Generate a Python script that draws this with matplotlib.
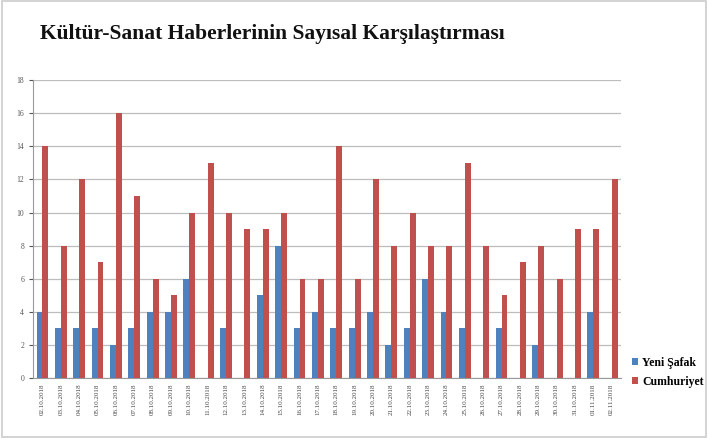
import numpy as np
import matplotlib.pyplot as plt
from matplotlib.patches import Rectangle

# Dates (categories)
dates = ['02.10.2018', '03.10.2018', '04.10.2018', '05.10.2018', '06.10.2018',
         '07.10.2018', '08.10.2018', '09.10.2018', '10.10.2018', '11.10.2018',
         '12.10.2018', '13.10.2018', '14.10.2018', '15.10.2018', '16.10.2018',
         '17.10.2018', '18.10.2018', '19.10.2018', '20.10.2018', '21.10.2018',
         '22.10.2018', '23.10.2018', '24.10.2018', '25.10.2018', '26.10.2018',
         '27.10.2018', '28.10.2018', '29.10.2018', '30.10.2018', '31.10.2018',
         '01.11.2018', '02.11.2018']

# Number of news per newspaper
yeni_safak = [4, 3, 3, 3, 2, 3, 4, 4, 6, 0, 3, 0, 5, 8, 3, 4,
              3, 3, 4, 2, 3, 6, 4, 3, 0, 3, 0, 2, 0, 0, 4, 0]
cumhuriyet = [14, 8, 12, 7, 16, 11, 6, 5, 10, 13, 10, 9, 9, 10, 6, 6,
              14, 6, 12, 8, 10, 8, 8, 13, 8, 5, 7, 8, 6, 9, 9, 12]

serif = ['Liberation Serif', 'DejaVu Serif']

fig = plt.figure(figsize=(7.08, 4.38), dpi=100)
ax = fig.add_axes([0.047, 0.137, 0.83, 0.68])

x = np.arange(len(dates))
w = 0.32
ax.bar(x - w / 2, yeni_safak, w, color='#4F81BD', label='Yeni Şafak', zorder=3)
ax.bar(x + w / 2, cumhuriyet, w, color='#C0504D', label='Cumhuriyet', zorder=3)

ax.set_xlim(-0.5, len(dates) - 0.5)
ax.set_ylim(0, 18)
ax.set_yticks(range(0, 19, 2))
ax.yaxis.grid(True, color='#bdbdbd', linewidth=0.9, zorder=0)
ax.set_xticks(x)
ax.set_xticklabels(dates, rotation=90, fontsize=5, family=serif, color='#444444')
ax.tick_params(axis='x', length=0, pad=4)
ax.tick_params(axis='y', labelsize=5.5, colors='#555555', length=3)
for lbl in ax.get_yticklabels():
    lbl.set_family(serif)

for s in ['top', 'right']:
    ax.spines[s].set_visible(False)
ax.spines['left'].set_color('#999999')
ax.spines['bottom'].set_color('#999999')

fig.text(0.057, 0.912, 'Kültür-Sanat Haberlerinin Sayısal Karşılaştırması',
         fontsize=15.5, fontweight='bold', family=serif, color='#111111')

leg = fig.legend(loc='upper left', bbox_to_anchor=(0.877, 0.21), frameon=False,
                 prop={'family': serif, 'weight': 'bold', 'size': 8.5},
                 handlelength=0.55, handleheight=0.55, handletextpad=0.35,
                 labelspacing=0.6)

# light frame around the chart
fig.patches.append(Rectangle((0.003, 0.003), 0.994, 0.994, transform=fig.transFigure,
                             fill=False, edgecolor='#cccccc', linewidth=1.2))

fig.savefig('out.png', dpi=100)
